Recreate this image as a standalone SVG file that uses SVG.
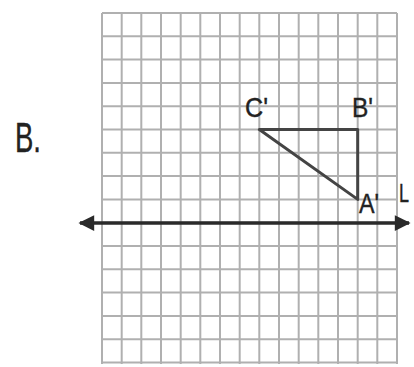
<svg xmlns="http://www.w3.org/2000/svg" width="414" height="367" viewBox="0 0 414 367">
<style>
.grid line{stroke:#b0b0b0;stroke-width:2}
.lbl{font-family:"Liberation Sans",Arial,sans-serif;fill:#222;stroke:#222;stroke-width:0.4}
.tri{fill:none;stroke:#444;stroke-width:3;stroke-linejoin:round}
.axis{stroke:#2a2a2a;stroke-width:3.5}
</style>
<defs>
<marker id="ah" viewBox="0 0 10 10" refX="9" refY="5" markerWidth="5" markerHeight="4.5" orient="auto-start-reverse" markerUnits="strokeWidth">
<path d="M0,0 L10,5 L0,10 Z" fill="#2a2a2a"/>
</marker>
</defs>
<rect width="414" height="367" fill="#fff"/>
<g id="grid" class="grid">
<line x1="102" y1="13" x2="102" y2="364"/>
<line x1="121.7" y1="13" x2="121.7" y2="364"/>
<line x1="141.3" y1="13" x2="141.3" y2="364"/>
<line x1="161" y1="13" x2="161" y2="364"/>
<line x1="180.7" y1="13" x2="180.7" y2="364"/>
<line x1="200.3" y1="13" x2="200.3" y2="364"/>
<line x1="220" y1="13" x2="220" y2="364"/>
<line x1="239.7" y1="13" x2="239.7" y2="364"/>
<line x1="259.3" y1="13" x2="259.3" y2="364"/>
<line x1="279" y1="13" x2="279" y2="364"/>
<line x1="298.7" y1="13" x2="298.7" y2="364"/>
<line x1="318.3" y1="13" x2="318.3" y2="364"/>
<line x1="338" y1="13" x2="338" y2="364"/>
<line x1="357.7" y1="13" x2="357.7" y2="364"/>
<line x1="377.3" y1="13" x2="377.3" y2="364"/>
<line x1="397" y1="13" x2="397" y2="364"/>
<line x1="102" y1="13" x2="397" y2="13"/>
<line x1="102" y1="36.3" x2="397" y2="36.3"/>
<line x1="102" y1="59.6" x2="397" y2="59.6"/>
<line x1="102" y1="82.9" x2="397" y2="82.9"/>
<line x1="102" y1="106.2" x2="397" y2="106.2"/>
<line x1="102" y1="129.5" x2="397" y2="129.5"/>
<line x1="102" y1="152.8" x2="397" y2="152.8"/>
<line x1="102" y1="176.1" x2="397" y2="176.1"/>
<line x1="102" y1="199.4" x2="397" y2="199.4"/>
<line x1="102" y1="222.7" x2="397" y2="222.7"/>
<line x1="102" y1="246" x2="397" y2="246"/>
<line x1="102" y1="269.3" x2="397" y2="269.3"/>
<line x1="102" y1="292.6" x2="397" y2="292.6"/>
<line x1="102" y1="315.9" x2="397" y2="315.9"/>
<line x1="102" y1="339.2" x2="397" y2="339.2"/>
<line x1="102" y1="362.5" x2="397" y2="362.5"/>
</g>
<g id="connectors">
<line class="axis" x1="80" y1="223" x2="409" y2="223" marker-start="url(#ah)" marker-end="url(#ah)"/>
</g>
<g id="triangle">
<polygon class="tri" points="259.3,129.5 357.7,129.5 357.7,199.4"/>
</g>
<g id="label-B">
<text class="lbl" x="15" y="152" font-size="42" textLength="26" lengthAdjust="spacingAndGlyphs">B.</text>
</g>
<g id="label-C">
<text class="lbl" x="245" y="117" font-size="28" textLength="23" lengthAdjust="spacingAndGlyphs">C'</text>
</g>
<g id="label-Bp">
<text class="lbl" x="352" y="117" font-size="28" textLength="21" lengthAdjust="spacingAndGlyphs">B'</text>
</g>
<g id="label-A">
<text class="lbl" x="359" y="213" font-size="28" textLength="20" lengthAdjust="spacingAndGlyphs">A'</text>
</g>
<g id="label-L">
<text class="lbl" x="399" y="202" font-size="26" textLength="10" lengthAdjust="spacingAndGlyphs">L</text>
</g>
</svg>
